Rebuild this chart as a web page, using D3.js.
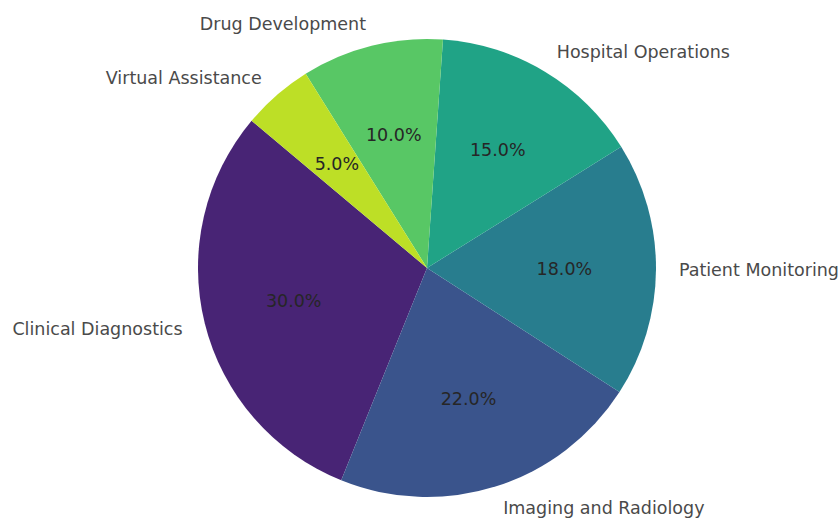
<!DOCTYPE html>
<html>
<head>
<meta charset="utf-8">
<script src="https://cdn.jsdelivr.net/npm/d3@7"></script>
<style>
  body { margin: 0; background: #fff; }
  svg text { font-family: "DejaVu Sans", sans-serif; }
</style>
</head>
<body>
<div id="chart"></div>
<script>
// parts de l'IA en santé
var categories = ['Clinical Diagnostics', 'Imaging and Radiology', 'Patient Monitoring',
                  'Hospital Operations', 'Drug Development', 'Virtual Assistance'];
var valeurs = [30, 22, 18, 15, 10, 5];

var largeur = 840, hauteur = 520;
var cx = 427, cy = 268, rayon = 229;
var depart = 140; // degrés, sens trigo comme matplotlib

var svg = d3.select("#chart").append("svg")
    .attr("width", largeur).attr("height", hauteur);

var couleur = d3.scaleOrdinal()
    .domain(categories)
    .range(categories.map(function(c, i) { return d3.interpolateViridis(0.1 + 0.8 * i / (categories.length - 1)); }));

// d3 : angle 0 en haut, sens horaire -> on tourne à l'envers
var a0 = (90 - depart) * Math.PI / 180;
var pie = d3.pie().sort(null).value(function(d) { return d; })
    .startAngle(a0).endAngle(a0 - 2 * Math.PI);
var arcs = pie(valeurs);
var total = d3.sum(valeurs);

var arc = d3.arc().innerRadius(0).outerRadius(rayon);
var g = svg.append("g").attr("transform", "translate(" + cx + "," + cy + ")");

g.selectAll("path").data(arcs).enter().append("path")
    .attr("d", arc)
    .attr("fill", function(d, i) { return couleur(categories[i]); });

function pos(d, k) {
    var m = (d.startAngle + d.endAngle) / 2;
    return [Math.sin(m) * rayon * k, -Math.cos(m) * rayon * k];
}

// pourcentages
g.selectAll("text.pct").data(arcs).enter().append("text")
    .attr("class", "pct")
    .attr("x", function(d) { return pos(d, 0.6)[0]; })
    .attr("y", function(d) { return pos(d, 0.6)[1]; })
    .attr("text-anchor", "middle")
    .attr("dominant-baseline", "central")
    .attr("font-size", 17.5)
    .attr("fill", "#262626")
    .text(function(d) { return (d.value / total * 100).toFixed(1) + "%"; });

// étiquettes
g.selectAll("text.lab").data(arcs).enter().append("text")
    .attr("class", "lab")
    .attr("x", function(d) { return pos(d, 1.1)[0]; })
    .attr("y", function(d) { return pos(d, 1.1)[1]; })
    .attr("text-anchor", function(d) { return pos(d, 1.1)[0] < 0 ? "end" : "start"; })
    .attr("dominant-baseline", "central")
    .attr("font-size", 17.5)
    .attr("fill", "#4a4a4a")
    .text(function(d, i) { return categories[i]; });
</script>
</body>
</html>
